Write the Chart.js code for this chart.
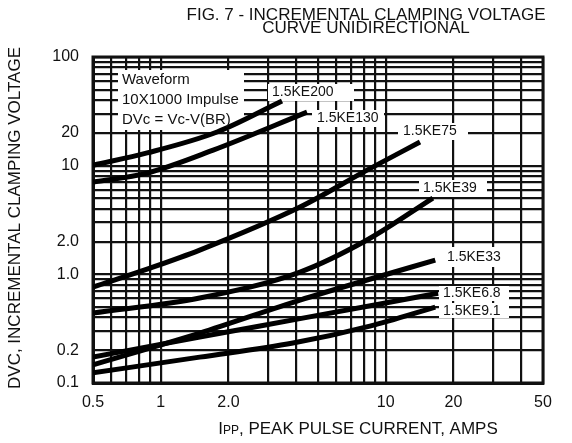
<!DOCTYPE html>
<html>
<head>
<meta charset="utf-8">
<script src="https://cdn.jsdelivr.net/npm/chart.js@4"></script>
<style>
html,body{margin:0;padding:0;background:#fff;}
canvas{display:block;}
</style>
</head>
<body>
<canvas id="c" width="572" height="443"></canvas>
<script>
// ---- data ----
const xGridValues = [0.5,0.6,0.7,0.8,0.9,1,2,3,4,5,6,7,8,9,10,20,30,40,50];
const xTickLabels = {0.5:'0.5',1:'1',2:'2.0',10:'10',20:'20',50:'50'};
const yGridValues = [0.1,0.2,0.3,0.4,0.5,0.6,0.7,0.8,0.9,1,2,3,4,5,6,7,8,9,10,20,30,40,50,60,70,80,90,100];
const yTickLabels = {0.1:'0.1',0.2:'0.2',1:'1.0',2:'2.0',10:'10',20:'20',100:'100'};

const ipp_KE200 = [0.5, 0.87, 1.78, 3.46];
const dvc_KE200 = [10.1, 13.1, 20.4, 39.3];
const ipp_KE130 = [0.5, 0.87, 1.71, 4.47];
const dvc_KE130 = [7.07, 8.55, 13.9, 31.1];
const ipp_KE75  = [0.5, 0.896, 1.49, 4.16, 8.26, 14.2];
const dvc_KE75  = [0.764, 1.14, 1.67, 4.16, 9.1, 16.5];
const ipp_KE39  = [0.5, 1.49, 4.16, 8.26, 16.2];
const dvc_KE39  = [0.44, 0.605, 1.05, 2.07, 5.03];
const ipp_KE33  = [0.5, 1.49, 4.16, 8.26, 16.6];
const dvc_KE33  = [0.147, 0.288, 0.58, 0.887, 1.35];
const ipp_KE68  = [0.5, 1.49, 4.16, 17.1];
const dvc_KE68  = [0.173, 0.265, 0.391, 0.67];
const ipp_KE91  = [0.5, 1.49, 3.87, 8.5, 16.6];
const dvc_KE91  = [0.124, 0.173, 0.233, 0.334, 0.5];

const seriesNames = ['1.5KE200','1.5KE130','1.5KE75','1.5KE39','1.5KE33','1.5KE6.8','1.5KE9.1'];
const seriesX = [ipp_KE200, ipp_KE130, ipp_KE75, ipp_KE39, ipp_KE33, ipp_KE68, ipp_KE91];
const seriesY = [dvc_KE200, dvc_KE130, dvc_KE75, dvc_KE39, dvc_KE33, dvc_KE68, dvc_KE91];

// ---- annotation layout (pixels) ----
const FONT = '"Liberation Sans", Arial, Helvetica, sans-serif';
const curveLabels = [
  {t:'1.5KE200', x:272, y:92,  box:[268,84,86,17]},
  {t:'1.5KE130', x:317, y:118, box:[312,110,72,17]},
  {t:'1.5KE75',  x:403, y:131, box:[398,123,70,17]},
  {t:'1.5KE39',  x:423, y:188, box:[419,180,68,17]},
  {t:'1.5KE33',  x:447, y:257, box:[441,247,74,20]},
  {t:'1.5KE6.8', x:443, y:293, box:[439,286,70,15]},
  {t:'1.5KE9.1', x:443, y:311, box:[439,303,70,15]}
];
const legendLines = ['Waveform','10X1000 Impulse','DVc = Vc-V(BR)'];

const datasets = seriesNames.map((name, i) => ({
  label: name,
  data: seriesX[i].map((x, k) => ({x: x, y: seriesY[i][k]})),
  borderColor: '#000',
  borderWidth: 5,
  pointRadius: 0,
  fill: false,
  tension: 0.4,
  cubicInterpolationMode: 'monotone',
  borderCapStyle: 'butt'
}));

const annot = {
  id: 'annot',
  beforeDatasetsDraw(chart) {
    const ctx = chart.ctx, a = chart.chartArea;
    ctx.save();
    ctx.strokeStyle = '#111';
    ctx.lineWidth = 3;
    ctx.strokeRect(a.left, a.top, a.right - a.left, a.bottom - a.top);
    ctx.fillStyle = '#fff';
    ctx.fillRect(118, 70, 126, 60);
    curveLabels.forEach(l => ctx.fillRect(l.box[0], l.box[1], l.box[2], l.box[3]));
    ctx.restore();
  },
  afterDatasetsDraw(chart) {
    const ctx = chart.ctx;
    ctx.save();
    ctx.fillStyle = '#111';
    ctx.textBaseline = 'middle';
    ctx.textAlign = 'left';
    ctx.font = '15px ' + FONT;
    legendLines.forEach((s, i) => ctx.fillText(s, 122, 80 + i * 20));
    ctx.font = '14px ' + FONT;
    curveLabels.forEach(l => ctx.fillText(l.t, l.x, l.y));
    // chart title
    ctx.textAlign = 'center';
    ctx.font = '17px ' + FONT;
    ctx.fillText('FIG. 7 - INCREMENTAL CLAMPING VOLTAGE', 366, 15);
    ctx.fillText('CURVE UNIDIRECTIONAL', 366, 28);
    // y axis title
    ctx.save();
    ctx.translate(15, 218);
    ctx.rotate(-Math.PI / 2);
    ctx.font = '17px ' + FONT;
    ctx.fillText('DVC, INCREMENTAL CLAMPING VOLTAGE', 0, 0);
    ctx.restore();
    // x axis title with small-cap letters
    const big = '17px ' + FONT, small = '12px ' + FONT;
    const p1 = 'I', p2 = 'PP', p3 = ', PEAK PULSE CURRENT, AMPS';
    ctx.font = big; const w1 = ctx.measureText(p1).width, w3 = ctx.measureText(p3).width;
    ctx.font = small; const w2 = ctx.measureText(p2).width;
    let x0 = 358 - (w1 + w2 + w3) / 2;
    const yb = 434;
    ctx.textAlign = 'left';
    ctx.textBaseline = 'alphabetic';
    ctx.font = big; ctx.fillText(p1, x0, yb);
    ctx.font = small; ctx.fillText(p2, x0 + w1, yb);
    ctx.font = big; ctx.fillText(p3, x0 + w1 + w2, yb);
    ctx.restore();
  }
};

new Chart(document.getElementById('c'), {
  type: 'line',
  data: { datasets },
  options: {
    responsive: false,
    animation: false,
    events: [],
    layout: { padding: { top: 57, right: 29, left: 0, bottom: 0 } },
    plugins: { legend: { display: false }, tooltip: { enabled: false }, title: { display: false } },
    scales: {
      x: {
        type: 'logarithmic',
        min: 0.5, max: 50,
        afterFit(s) { s.height = 60; },
        afterBuildTicks(s) { s.ticks = xGridValues.map(v => ({value: v})); },
        ticks: {
          autoSkip: false, maxRotation: 0, padding: 10,
          color: '#111', font: { family: FONT, size: 16 },
          callback: (v) => xTickLabels[v] !== undefined ? xTickLabels[v] : ''
        },
        grid: { color: '#111', lineWidth: 2.2, drawTicks: false },
        border: { display: true, color: '#111', width: 3 }
      },
      y: {
        type: 'logarithmic',
        min: 0.1, max: 100,
        afterFit(s) { s.width = 93; },
        afterBuildTicks(s) { s.ticks = yGridValues.map(v => ({value: v})); },
        ticks: {
          autoSkip: false, padding: 14,
          color: '#111', font: { family: FONT, size: 16 },
          callback: (v) => yTickLabels[v] !== undefined ? yTickLabels[v] : ''
        },
        grid: { color: '#111', lineWidth: 2.2, drawTicks: false },
        border: { display: true, color: '#111', width: 3 }
      }
    }
  },
  plugins: [annot]
});
</script>
</body>
</html>
